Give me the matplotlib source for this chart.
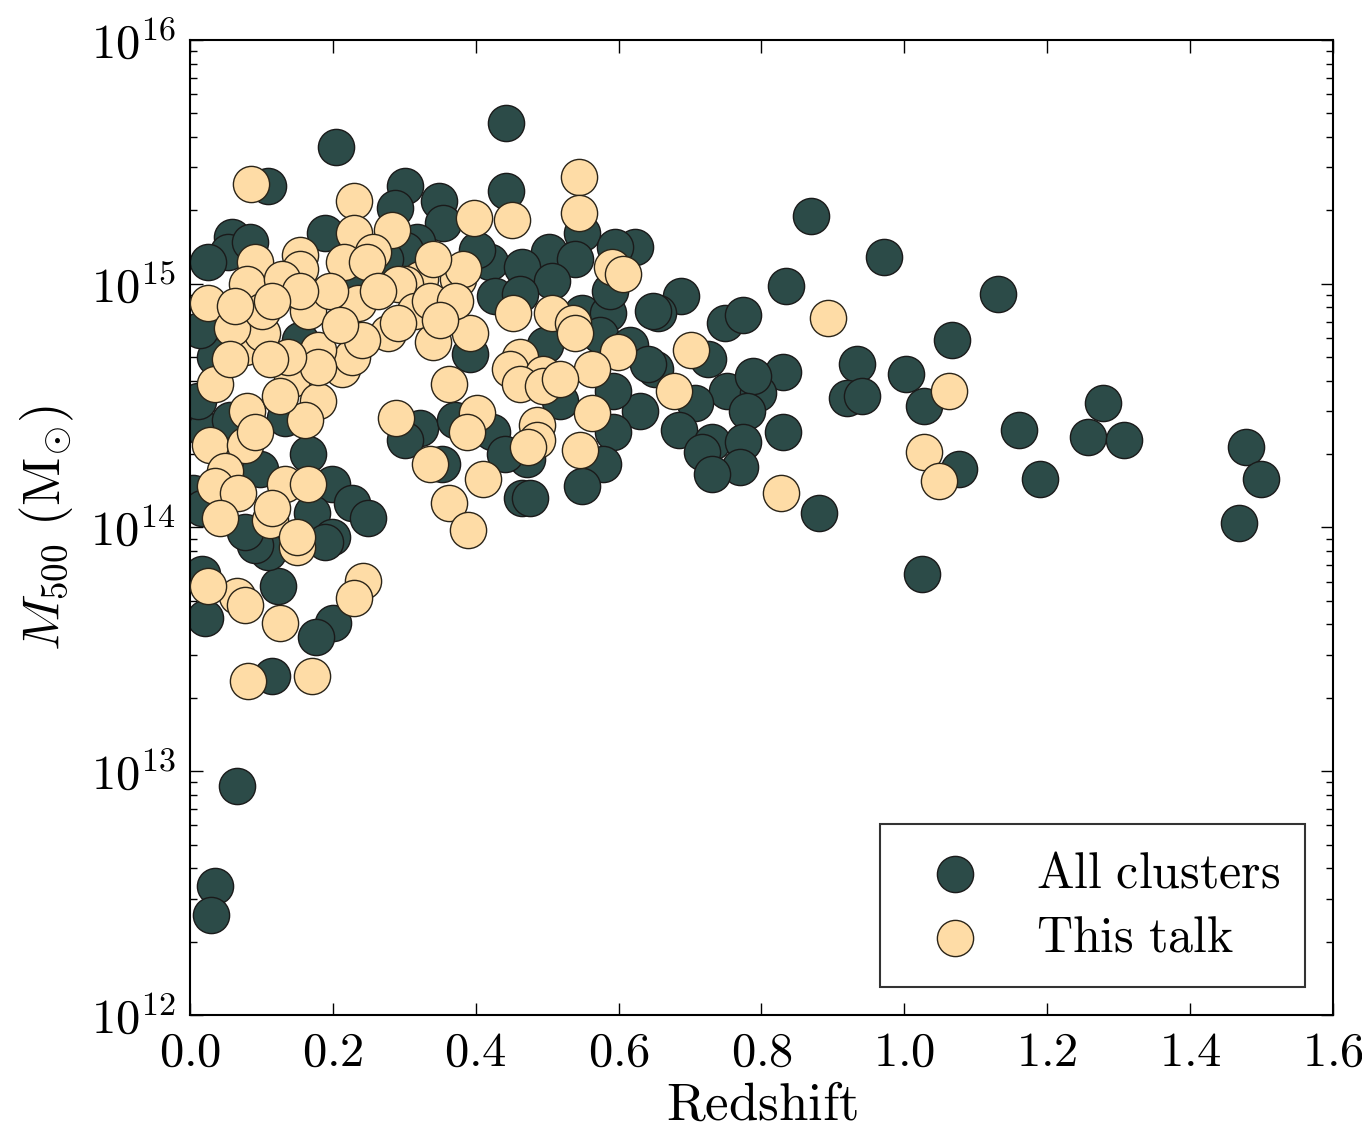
import numpy as np
import matplotlib
matplotlib.use("Agg")
import matplotlib.pyplot as plt
from matplotlib.ticker import FixedLocator, FuncFormatter, LogLocator, NullFormatter

# ---- cluster catalogue: redshift and log10(M500 / Msun) ----
z_all = [0.442, 0.204, 0.869, 0.971, 1.131, 0.834, 1.067, 1.002, 0.934, 0.920,
         0.941, 1.028, 1.160, 1.257, 1.278, 1.307, 1.190, 1.076, 1.478, 1.499,
         1.468, 1.025, 0.880, 0.830, 0.830, 0.066, 0.035, 0.029, 0.115, 0.687,
         0.655, 0.623, 0.749, 0.774, 0.725, 0.651, 0.630, 0.752, 0.795, 0.788,
         0.707, 0.780, 0.685, 0.731, 0.717, 0.774, 0.770, 0.731, 0.301, 0.349,
         0.354, 0.442, 0.318, 0.549, 0.503, 0.539, 0.595, 0.420, 0.465, 0.507,
         0.648, 0.549, 0.585, 0.427, 0.462, 0.402, 0.322, 0.472, 0.592, 0.578,
         0.549, 0.465, 0.476, 0.353, 0.109, 0.287, 0.189, 0.059, 0.053, 0.025,
         0.084, 0.301, 0.165, 0.199, 0.227, 0.249, 0.171, 0.199, 0.021, 0.011,
         0.004, 0.035, 0.301, 0.017, 0.021, 0.123, 0.200, 0.176, 0.109, 0.091,
         0.189, 0.574, 0.616, 0.641, 0.592, 0.371, 0.423, 0.441, 0.518,
         0.588, 0.497, 0.392, 0.077, 0.017, 0.133, 0.098, 0.154, 0.224, 0.056,
         0.098, 0.014, 0.273]
logm_all = [15.66, 15.56, 15.28, 15.11, 14.96, 14.99, 14.77, 14.63, 14.67, 14.53,
            14.54, 14.50, 14.40, 14.37, 14.51, 14.36, 14.20, 14.24, 14.33, 14.20,
            14.02, 13.81, 14.06, 14.39, 14.64, 12.94, 12.53, 12.41, 13.39, 14.95,
            14.88, 15.15, 14.84, 14.87, 14.69, 14.65, 14.48, 14.56, 14.55, 14.62,
            14.51, 14.48, 14.40, 14.35, 14.31, 14.35, 14.25, 14.22, 15.40, 15.34,
            15.25, 15.38, 15.17, 15.21, 15.13, 15.10, 15.15, 15.09, 15.07, 15.01,
            14.89, 14.88, 14.88, 14.95, 14.96, 15.14, 14.41, 14.28, 14.39, 14.26,
            14.17, 14.12, 14.12, 14.26, 15.40, 15.31, 15.21, 15.19, 15.13, 15.09,
            15.17, 15.14, 14.30, 14.18, 14.10, 14.04, 14.06, 13.96, 14.40, 14.52,
            14.14, 14.70, 14.36, 13.81, 13.63, 13.76, 13.61, 13.55, 13.90, 13.93,
            13.94, 14.79, 14.75, 14.67, 14.56, 14.44, 14.39, 14.30, 14.52,
            14.97, 14.75, 14.71, 13.98, 14.08, 14.45, 14.93, 14.77, 15.02, 14.44,
            14.24, 14.81, 15.10]

# ---- sub-sample discussed here ----
z_talk = [0.085, 0.230, 0.283, 0.230, 0.398, 0.451, 0.545, 0.545, 0.591, 0.606,
          0.893, 0.701, 0.678, 1.063, 1.028, 1.049, 0.827, 0.081, 0.171, 0.242,
          0.230, 0.126, 0.066, 0.077, 0.025, 0.150, 0.452, 0.507, 0.536, 0.375,
          0.382, 0.322, 0.301, 0.340, 0.340, 0.392, 0.539, 0.599, 0.563, 0.462,
          0.448, 0.494, 0.462, 0.494, 0.518, 0.363, 0.288, 0.402, 0.388, 0.486,
          0.486, 0.473, 0.563, 0.546, 0.336, 0.410, 0.363, 0.389, 0.091, 0.154,
          0.154, 0.216, 0.256, 0.248, 0.080, 0.129, 0.235, 0.291, 0.025, 0.165,
          0.077, 0.035, 0.143, 0.080, 0.028, 0.077, 0.049, 0.035, 0.067, 0.133,
          0.165, 0.042, 0.112, 0.115, 0.150, 0.179, 0.161, 0.091, 0.213, 0.227,
          0.179, 0.179, 0.137, 0.277, 0.241, 0.101, 0.059, 0.101, 0.196, 0.154,
          0.210, 0.315, 0.336, 0.371, 0.350, 0.291, 0.115, 0.063, 0.263, 0.112,
          0.126, 0.056]
logm_talk = [15.41, 15.34, 15.22, 15.21, 15.27, 15.26, 15.44, 15.29, 15.07, 15.04,
             14.86, 14.73, 14.56, 14.56, 14.31, 14.19, 14.14, 13.37, 13.39, 13.78,
             13.71, 13.61, 13.72, 13.68, 13.76, 13.92, 14.88, 14.88, 14.84, 15.02,
             15.06, 15.02, 15.00, 15.10, 14.76, 14.80, 14.80, 14.72, 14.65, 14.70,
             14.65, 14.63, 14.59, 14.58, 14.61, 14.59, 14.45, 14.47, 14.39, 14.42,
             14.36, 14.33, 14.47, 14.32, 14.26, 14.20, 14.10, 13.99, 15.09, 15.12,
             15.06, 15.09, 15.13, 15.09, 15.00, 15.02, 14.92, 15.00, 14.92, 14.89,
             14.74, 14.59, 14.61, 14.48, 14.34, 14.34, 14.23, 14.17, 14.14, 14.18,
             14.18, 14.04, 14.03, 14.08, 13.96, 14.52, 14.44, 14.39, 14.65, 14.70,
             14.73, 14.66, 14.70, 14.80, 14.77, 14.80, 14.82, 14.89, 14.97, 14.97,
             14.83, 14.89, 14.93, 14.93, 14.85, 14.84, 14.93, 14.91, 14.97, 14.69,
             14.54, 14.69]

x_ticks = [0.0, 0.2, 0.4, 0.6, 0.8, 1.0, 1.2, 1.4, 1.6]
y_decades = [12, 13, 14, 15, 16]

dark = "#2c4b48"
tan = "#fedca6"

plt.rcParams["mathtext.fontset"] = "cm"
plt.rcParams["font.family"] = ["DejaVu Serif"]

fig = plt.figure(figsize=(13.62, 11.31), dpi=100)
ax = fig.add_axes([0.1395, 0.1026, 0.8392, 0.862])

m_all = 10.0 ** np.array(logm_all)
m_talk = 10.0 ** np.array(logm_talk)

ax.scatter(z_all, m_all, s=680, c=dark, edgecolors="#1a1a1a", linewidths=1.0,
           label=r"$\mathrm{All\ clusters}$", zorder=2)
ax.scatter(z_talk, m_talk, s=680, c=tan, edgecolors="#2a2418", linewidths=1.0,
           label=r"$\mathrm{This\ talk}$", zorder=3)

ax.set_yscale("log")
ax.set_xlim(0.0, 1.6)
ax.set_ylim(1e12, 1e16)

ax.xaxis.set_major_locator(FixedLocator(x_ticks))
ax.xaxis.set_major_formatter(FuncFormatter(lambda v, p: r"$%.1f$" % v))
ax.yaxis.set_major_locator(FixedLocator([10.0 ** d for d in y_decades]))
ax.yaxis.set_major_formatter(FuncFormatter(lambda v, p: r"$10^{%d}$" % round(np.log10(v))))
ax.yaxis.set_minor_locator(LogLocator(base=10, subs=np.arange(2, 10), numticks=20))
ax.yaxis.set_minor_formatter(NullFormatter())

ax.tick_params(which="both", direction="in", top=True, right=True,
               labelsize=35, width=1.0)
ax.tick_params(which="major", length=9, pad=10)
ax.tick_params(which="minor", length=5)
for sp in ax.spines.values():
    sp.set_linewidth(1.5)

ax.set_xlabel(r"$\mathrm{Redshift}$", fontsize=38, labelpad=3)
ax.set_ylabel(r"$M_{500}\ (\mathrm{M}_{\odot})$", fontsize=38, labelpad=10)

leg = ax.legend(loc="lower right", scatterpoints=1, fontsize=36, frameon=True,
                fancybox=False, edgecolor="black", borderaxespad=0.55,
                handletextpad=0.62, borderpad=0.5, labelspacing=0.3)
leg.get_frame().set_linewidth(1.5)

fig.savefig("out.png", dpi=100)
